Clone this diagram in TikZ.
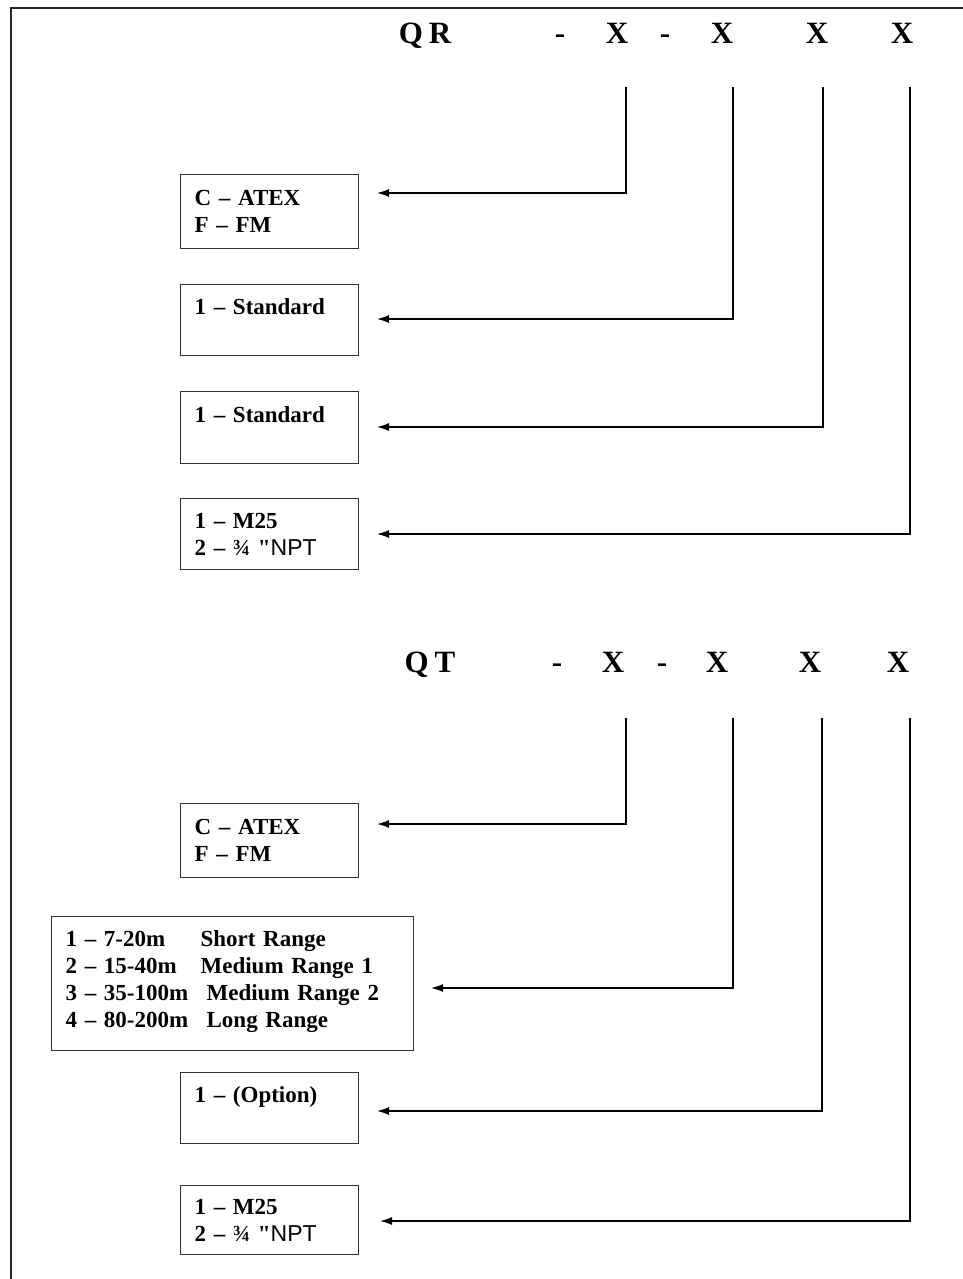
\documentclass[tikz,border=0pt]{standalone}
\usepackage{fontspec}
\setmainfont{Liberation Serif}
\setsansfont{Liberation Sans}
\newfontfamily\rawserif[Ligatures=TeXOff]{Liberation Serif}
\usetikzlibrary{arrows.meta}
\newcommand{\npt}{2 -- ¾ {\rawserif\bfseries "}{\mdseries\sffamily NPT}}
\begin{document}
\begin{tikzpicture}[x=1pt,y=-1pt,
  hdr/.style={font=\fontsize{31}{36}\selectfont\bfseries, anchor=base, inner sep=0pt},
  optbox/.style={draw=black!80, line width=1.3pt, anchor=north west, align=left,
    inner xsep=14pt, inner ysep=0pt, text width=150pt,
    font=\fontsize{23}{27}\selectfont\bfseries},
  conn/.style={line width=1.4pt, -{Latex[length=12pt,width=8pt]}},
  frame/.style={line width=2.5pt, black!85}]
\useasboundingbox (0,0) rectangle (963,1279);
\draw[frame] (11,1300) -- (11,8) -- (990,8);

% ---- QR header ----
\node[hdr] (qr) at (425,44) {Q\hspace{6pt}R};
\node[hdr] (qrd1) at (560,44) {-};
\node[hdr] (qrx1) at (617,44) {X};
\node[hdr] (qrd2) at (665,44) {-};
\node[hdr] (qrx2) at (722,44) {X};
\node[hdr] (qrx3) at (817,44) {X};
\node[hdr] (qrx4) at (902,44) {X};

% ---- QR boxes ----
\node[optbox, minimum height=74pt] (b1) at (180,174) {C -- ATEX\\F -- FM};
\node[optbox, minimum height=71pt] (b2) at (180,284) {1 -- Standard\\\mbox{}};
\node[optbox, minimum height=72pt] (b3) at (180,391) {1 -- Standard\\\mbox{}};
\node[optbox, minimum height=71pt] (b4) at (180,498) {1 -- M25\\\npt};

\coordinate (t1) at (626,87);
\coordinate (t2) at (733,87);
\coordinate (t3) at (823,87);
\coordinate (t4) at (910,87);
\coordinate (e1) at (377,193);
\coordinate (e2) at (377,319);
\coordinate (e3) at (377,427);
\coordinate (e4) at (377,534);
\draw[conn] (t1) |- (e1);
\draw[conn] (t2) |- (e2);
\draw[conn] (t3) |- (e3);
\draw[conn] (t4) |- (e4);

% ---- QT header ----
\node[hdr] (qt) at (430,672) {Q\hspace{6pt}T};
\node[hdr] (qtd1) at (557,672) {-};
\node[hdr] (qtx1) at (613,672) {X};
\node[hdr] (qtd2) at (662,672) {-};
\node[hdr] (qtx2) at (717,672) {X};
\node[hdr] (qtx3) at (810,672) {X};
\node[hdr] (qtx4) at (898,672) {X};

% ---- QT boxes ----
\node[optbox, minimum height=74pt] (c1) at (180,803) {C -- ATEX\\F -- FM};
\node[optbox, minimum height=134pt, text width=334pt] (c2) at (51,916)
  {\makebox[135pt][l]{1 -- 7-20m}Short Range\\
   \makebox[135pt][l]{2 -- 15-40m}Medium Range 1\\
   \makebox[141pt][l]{3 -- 35-100m}Medium Range 2\\
   \makebox[141pt][l]{4 -- 80-200m}Long Range\\[-18pt]\mbox{}};
\node[optbox, minimum height=71pt] (c3) at (180,1072) {1 -- (Option)\\\mbox{}};
\node[optbox, minimum height=69pt] (c4) at (180,1185) {1 -- M25\\\npt};

\coordinate (u1) at (626,718);
\coordinate (u2) at (733,718);
\coordinate (u3) at (822,718);
\coordinate (u4) at (910,718);
\coordinate (f1) at (377,824);
\coordinate (f2) at (431,988);
\coordinate (f3) at (377,1111);
\coordinate (f4) at (380,1221);
\draw[conn] (u1) |- (f1);
\draw[conn] (u2) |- (f2);
\draw[conn] (u3) |- (f3);
\draw[conn] (u4) |- (f4);
\end{tikzpicture}
\end{document}
